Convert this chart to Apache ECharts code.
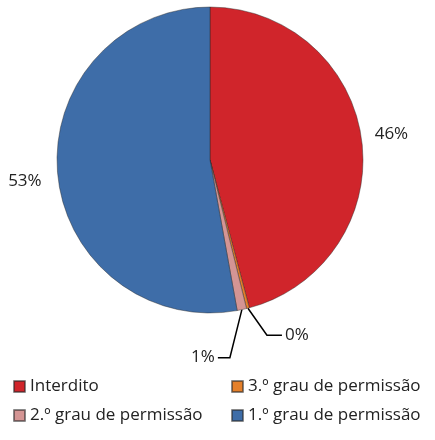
<!DOCTYPE html>
<html>
<head>
<meta charset="utf-8">
<script src="https://cdn.jsdelivr.net/npm/echarts@6/dist/echarts.min.js"></script>
<style>
  html, body { margin: 0; padding: 0; background: #fff; }
  #chart { width: 435px; height: 440px; }
</style>
</head>
<body>
<div id="chart"></div>
<script>
// categories and values (share of total, %)
var categories = ['Interdito', '3.º grau de permissão', '2.º grau de permissão', '1.º grau de permissão'];
var values = [46, 0.3, 1, 53];
var colors = ['#d0252b', '#e5802a', '#d49594', '#3e6da8'];

var chart = echarts.init(document.getElementById('chart'));

var font = 'Open Sans';

var data = categories.map(function (name, i) {
  return {
    name: name,
    value: values[i],
    itemStyle: { color: colors[i] }
  };
});
// big slices: label sits just outside, no leader line
data[0].labelLine = { show: false, length: 6, length2: 0 };
data[3].labelLine = { show: false, length: 6, length2: 0 };

var legendCommon = {
  orient: 'vertical',
  top: 373,
  itemGap: 12,
  itemWidth: 11,
  itemHeight: 11,
  icon: 'rect',
  textStyle: { fontFamily: font, fontSize: 17, color: '#222' }
};

var option = {
  animation: false,
  color: colors,
  legend: [
    Object.assign({ left: 8, data: [categories[0], categories[2]] }, legendCommon),
    Object.assign({ left: 226, data: [categories[1], categories[3]] }, legendCommon)
  ],
  series: [{
    type: 'pie',
    center: [210, 160],
    radius: 153,
    startAngle: 90,
    clockwise: true,
    avoidLabelOverlap: false,
    itemStyle: { borderColor: 'rgba(40,40,40,0.55)', borderWidth: 0.8 },
    label: {
      formatter: function (p) { return Math.round(p.percent) + '%'; },
      fontFamily: font,
      fontSize: 17,
      color: '#222',
      distanceToLabelLine: 3
    },
    labelLine: {
      show: true,
      length: 20,
      length2: 14,
      lineStyle: { color: '#000', width: 1.5 }
    },
    labelLayout: function (p) {
      if (p.dataIndex === 0) return { dx: 4, dy: -5 };
      if (p.dataIndex === 3) return { dx: -7, dy: 7 };
      var pts = p.labelLinePoints;
      if (!pts) return {};
      var a = pts[0], b, c;
      if (p.dataIndex === 1) {
        b = [a[0] + 19, a[1] + 27];
        c = [b[0] + 15, b[1]];
        return { x: c[0] + 3, y: c[1], align: 'left', verticalAlign: 'middle', labelLinePoints: [a, b, c] };
      }
      if (p.dataIndex === 2) {
        b = [a[0] - 12, a[1] + 48];
        c = [b[0] - 12, b[1]];
        return { x: c[0] - 3, y: c[1], align: 'right', verticalAlign: 'middle', labelLinePoints: [a, b, c] };
      }
      return {};
    },
    data: data
  }]
};

chart.setOption(option);
</script>
</body>
</html>
